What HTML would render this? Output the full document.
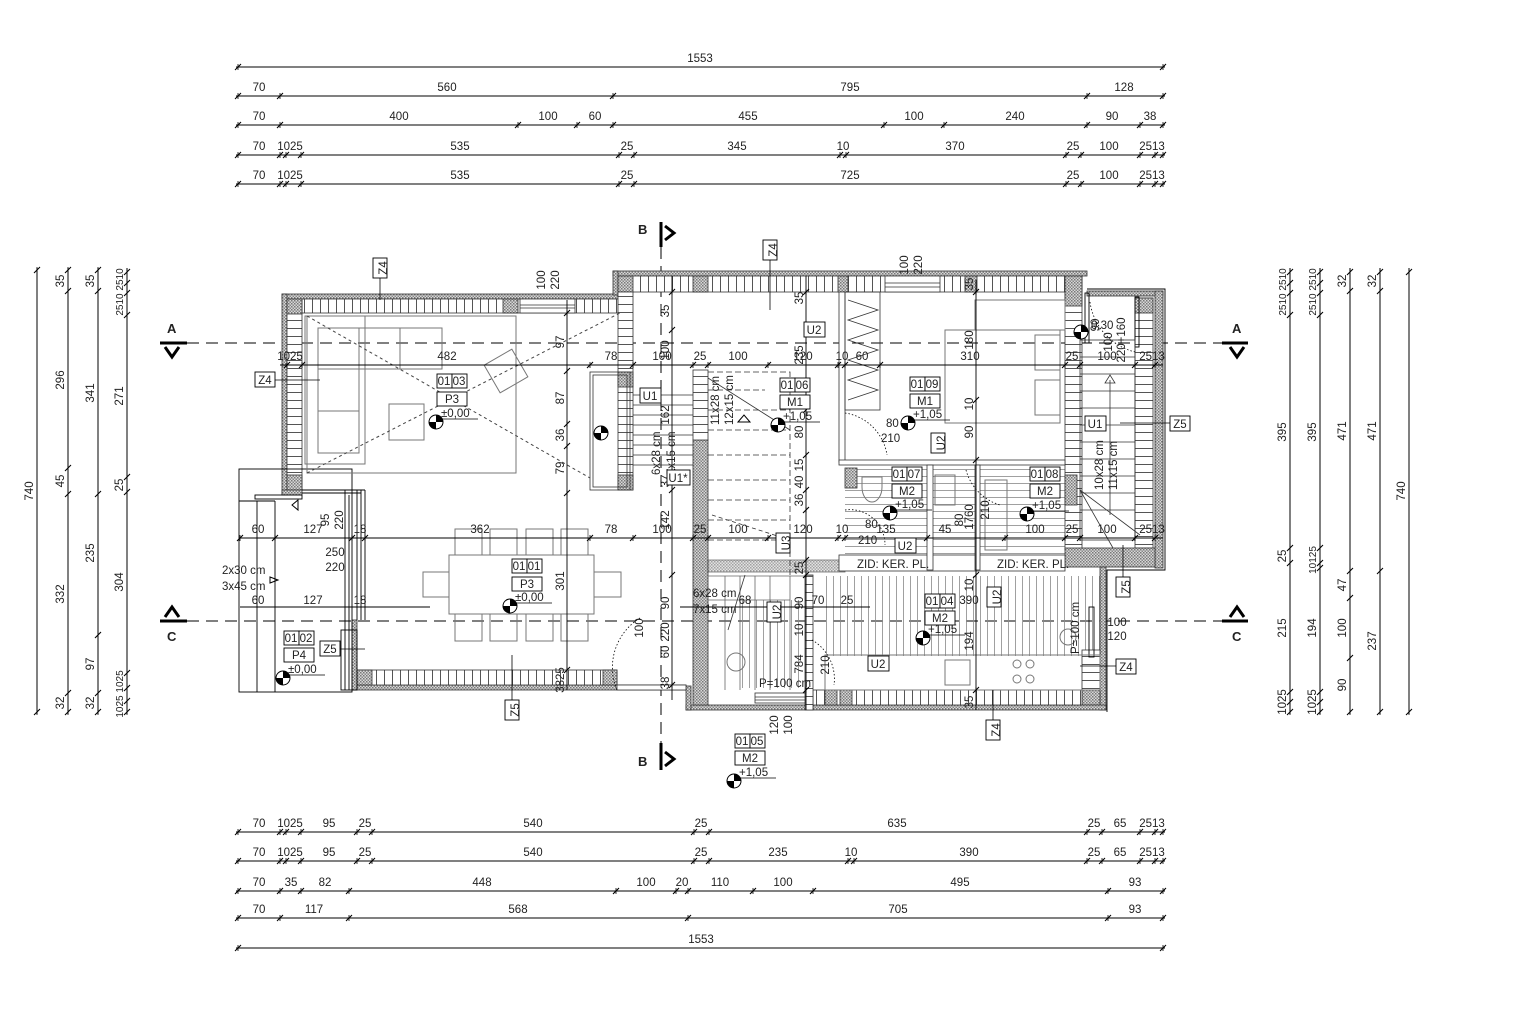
<!DOCTYPE html>
<html><head><meta charset="utf-8"><style>
html,body{margin:0;padding:0;background:#fff}
svg{display:block}
text{font-family:"Liberation Sans Narrow","Liberation Sans",sans-serif;font-size:11.5px;fill:#222}
.b{font-family:"Liberation Sans",sans-serif;font-weight:bold;font-size:13px}
</style></head><body>
<svg width="1513" height="1025" viewBox="0 0 1513 1025" xmlns="http://www.w3.org/2000/svg">
<defs>
<pattern id="h" width="3" height="3" patternUnits="userSpaceOnUse"><rect width="3" height="3" fill="#d8d8d8"/><rect width="1.5" height="1.5" fill="#777"/><rect x="1.5" y="1.5" width="1.5" height="1.5" fill="#888"/></pattern>
<pattern id="vl" width="8" height="8" patternUnits="userSpaceOnUse"><rect width="8" height="8" fill="#fff"/><line x1="0.5" y1="0" x2="0.5" y2="8" stroke="#555" stroke-width="1"/></pattern>
<pattern id="hl" width="8" height="8" patternUnits="userSpaceOnUse"><rect width="8" height="8" fill="#fff"/><line x1="0" y1="0.5" x2="8" y2="0.5" stroke="#555" stroke-width="1"/></pattern>
<pattern id="tv" width="7" height="7" patternUnits="userSpaceOnUse"><line x1="0.5" y1="0" x2="0.5" y2="7" stroke="#888" stroke-width="0.8"/></pattern>
<pattern id="th" width="7" height="7" patternUnits="userSpaceOnUse"><line x1="0" y1="0.5" x2="7" y2="0.5" stroke="#888" stroke-width="0.8"/></pattern>
<g id="t"><line x1="-3" y1="3" x2="3" y2="-3" stroke="#000" stroke-width="1.1"/><line x1="0" y1="-3" x2="0" y2="3" stroke="#000" stroke-width="0.8"/></g>
<g id="e"><circle r="7" fill="#fff" stroke="#000"/><path d="M0 0L0 -7A7 7 0 0 1 7 0Z M0 0L0 7A7 7 0 0 1 -7 0Z" fill="#000"/></g>
</defs>

<g stroke="#000" stroke-width="1">
<line x1="236" y1="67" x2="1165" y2="67"/>
<line x1="236" y1="96" x2="1165" y2="96"/>
<line x1="236" y1="125" x2="1165" y2="125"/>
<line x1="236" y1="155" x2="1165" y2="155"/>
<line x1="236" y1="184" x2="1165" y2="184"/>
<line x1="236" y1="832" x2="1165" y2="832"/>
<line x1="236" y1="861" x2="1165" y2="861"/>
<line x1="236" y1="891" x2="1165" y2="891"/>
<line x1="236" y1="918" x2="1165" y2="918"/>
<line x1="236" y1="948" x2="1165" y2="948"/>
</g>
<g>
<use href="#t" x="238" y="67"/><use href="#t" x="1163" y="67"/>
<use href="#t" x="238" y="96"/><use href="#t" x="280" y="96"/><use href="#t" x="613" y="96"/><use href="#t" x="1087" y="96"/><use href="#t" x="1163" y="96"/>
<use href="#t" x="238" y="125"/><use href="#t" x="280" y="125"/><use href="#t" x="518" y="125"/><use href="#t" x="577" y="125"/><use href="#t" x="613" y="125"/><use href="#t" x="884" y="125"/><use href="#t" x="944" y="125"/><use href="#t" x="1087" y="125"/><use href="#t" x="1140" y="125"/><use href="#t" x="1163" y="125"/>
<use href="#t" x="238" y="155"/><use href="#t" x="280" y="155"/><use href="#t" x="286" y="155"/><use href="#t" x="301" y="155"/><use href="#t" x="619" y="155"/><use href="#t" x="634" y="155"/><use href="#t" x="840" y="155"/><use href="#t" x="846" y="155"/><use href="#t" x="1066" y="155"/><use href="#t" x="1081" y="155"/><use href="#t" x="1140" y="155"/><use href="#t" x="1155" y="155"/><use href="#t" x="1163" y="155"/>
<use href="#t" x="238" y="184"/><use href="#t" x="280" y="184"/><use href="#t" x="286" y="184"/><use href="#t" x="301" y="184"/><use href="#t" x="619" y="184"/><use href="#t" x="634" y="184"/><use href="#t" x="1066" y="184"/><use href="#t" x="1081" y="184"/><use href="#t" x="1140" y="184"/><use href="#t" x="1155" y="184"/><use href="#t" x="1163" y="184"/>
<use href="#t" x="238" y="832"/><use href="#t" x="280" y="832"/><use href="#t" x="286" y="832"/><use href="#t" x="301" y="832"/><use href="#t" x="357" y="832"/><use href="#t" x="372" y="832"/><use href="#t" x="694" y="832"/><use href="#t" x="709" y="832"/><use href="#t" x="1087" y="832"/><use href="#t" x="1102" y="832"/><use href="#t" x="1140" y="832"/><use href="#t" x="1155" y="832"/><use href="#t" x="1163" y="832"/>
<use href="#t" x="238" y="861"/><use href="#t" x="280" y="861"/><use href="#t" x="286" y="861"/><use href="#t" x="301" y="861"/><use href="#t" x="357" y="861"/><use href="#t" x="372" y="861"/><use href="#t" x="694" y="861"/><use href="#t" x="709" y="861"/><use href="#t" x="848" y="861"/><use href="#t" x="854" y="861"/><use href="#t" x="1087" y="861"/><use href="#t" x="1102" y="861"/><use href="#t" x="1140" y="861"/><use href="#t" x="1155" y="861"/><use href="#t" x="1163" y="861"/>
<use href="#t" x="238" y="891"/><use href="#t" x="280" y="891"/><use href="#t" x="301" y="891"/><use href="#t" x="349" y="891"/><use href="#t" x="616" y="891"/><use href="#t" x="676" y="891"/><use href="#t" x="688" y="891"/><use href="#t" x="753" y="891"/><use href="#t" x="813" y="891"/><use href="#t" x="1108" y="891"/><use href="#t" x="1163" y="891"/>
<use href="#t" x="238" y="918"/><use href="#t" x="280" y="918"/><use href="#t" x="349" y="918"/><use href="#t" x="688" y="918"/><use href="#t" x="1108" y="918"/><use href="#t" x="1163" y="918"/>
<use href="#t" x="238" y="948"/><use href="#t" x="1163" y="948"/>
</g>
<g text-anchor="middle">
<text x="700" y="62">1553</text>
<text x="259" y="91">70</text><text x="447" y="91">560</text><text x="850" y="91">795</text><text x="1124" y="91">128</text>
<text x="259" y="120">70</text><text x="399" y="120">400</text><text x="548" y="120">100</text><text x="595" y="120">60</text><text x="748" y="120">455</text><text x="914" y="120">100</text><text x="1015" y="120">240</text><text x="1112" y="120">90</text><text x="1150" y="120">38</text>
<text x="259" y="150">70</text><text x="290" y="150">1025</text><text x="460" y="150">535</text><text x="627" y="150">25</text><text x="737" y="150">345</text><text x="843" y="150">10</text><text x="955" y="150">370</text><text x="1073" y="150">25</text><text x="1109" y="150">100</text><text x="1152" y="150">2513</text>
<text x="259" y="179">70</text><text x="290" y="179">1025</text><text x="460" y="179">535</text><text x="627" y="179">25</text><text x="850" y="179">725</text><text x="1073" y="179">25</text><text x="1109" y="179">100</text><text x="1152" y="179">2513</text>
<text x="259" y="827">70</text><text x="290" y="827">1025</text><text x="329" y="827">95</text><text x="365" y="827">25</text><text x="533" y="827">540</text><text x="701" y="827">25</text><text x="897" y="827">635</text><text x="1094" y="827">25</text><text x="1120" y="827">65</text><text x="1152" y="827">2513</text>
<text x="259" y="856">70</text><text x="290" y="856">1025</text><text x="329" y="856">95</text><text x="365" y="856">25</text><text x="533" y="856">540</text><text x="701" y="856">25</text><text x="778" y="856">235</text><text x="851" y="856">10</text><text x="969" y="856">390</text><text x="1094" y="856">25</text><text x="1120" y="856">65</text><text x="1152" y="856">2513</text>
<text x="259" y="886">70</text><text x="291" y="886">35</text><text x="325" y="886">82</text><text x="482" y="886">448</text><text x="646" y="886">100</text><text x="682" y="886">20</text><text x="720" y="886">110</text><text x="783" y="886">100</text><text x="960" y="886">495</text><text x="1135" y="886">93</text>
<text x="259" y="913">70</text><text x="314" y="913">117</text><text x="518" y="913">568</text><text x="898" y="913">705</text><text x="1135" y="913">93</text>
<text x="701" y="943">1553</text>
</g>

<g stroke="#000">
<line x1="37" y1="268" x2="37" y2="714"/><line x1="68" y1="268" x2="68" y2="714"/><line x1="98" y1="268" x2="98" y2="714"/><line x1="127" y1="268" x2="127" y2="714"/>
<line x1="1290" y1="268" x2="1290" y2="714"/><line x1="1320" y1="268" x2="1320" y2="714"/><line x1="1350" y1="268" x2="1350" y2="714"/><line x1="1380" y1="268" x2="1380" y2="714"/><line x1="1409" y1="268" x2="1409" y2="714"/>
</g>
<g>
<use href="#t" x="37" y="270"/><use href="#t" x="37" y="712"/>
<use href="#t" x="68" y="270"/><use href="#t" x="68" y="291"/><use href="#t" x="68" y="468"/><use href="#t" x="68" y="494"/><use href="#t" x="68" y="693"/><use href="#t" x="68" y="712"/>
<use href="#t" x="98" y="270"/><use href="#t" x="98" y="291"/><use href="#t" x="98" y="494"/><use href="#t" x="98" y="635"/><use href="#t" x="98" y="693"/><use href="#t" x="98" y="712"/>
<use href="#t" x="127" y="272"/><use href="#t" x="127" y="283"/><use href="#t" x="127" y="293"/><use href="#t" x="127" y="315"/><use href="#t" x="127" y="477"/><use href="#t" x="127" y="492"/><use href="#t" x="127" y="673"/><use href="#t" x="127" y="688"/><use href="#t" x="127" y="701"/><use href="#t" x="127" y="712"/>
<use href="#t" x="1290" y="272"/><use href="#t" x="1290" y="283"/><use href="#t" x="1290" y="293"/><use href="#t" x="1290" y="315"/><use href="#t" x="1290" y="548"/><use href="#t" x="1290" y="563"/><use href="#t" x="1290" y="692"/><use href="#t" x="1290" y="702"/><use href="#t" x="1290" y="712"/>
<use href="#t" x="1320" y="272"/><use href="#t" x="1320" y="283"/><use href="#t" x="1320" y="293"/><use href="#t" x="1320" y="315"/><use href="#t" x="1320" y="548"/><use href="#t" x="1320" y="563"/><use href="#t" x="1320" y="568"/><use href="#t" x="1320" y="692"/><use href="#t" x="1320" y="702"/><use href="#t" x="1320" y="712"/>
<use href="#t" x="1350" y="272"/><use href="#t" x="1350" y="291"/><use href="#t" x="1350" y="571"/><use href="#t" x="1350" y="598"/><use href="#t" x="1350" y="658"/><use href="#t" x="1350" y="712"/>
<use href="#t" x="1380" y="272"/><use href="#t" x="1380" y="291"/><use href="#t" x="1380" y="571"/><use href="#t" x="1380" y="712"/>
<use href="#t" x="1409" y="272"/><use href="#t" x="1409" y="712"/>
</g>
<g text-anchor="middle">
<text transform="translate(33,491) rotate(-90)">740</text>
<text transform="translate(64,281) rotate(-90)">35</text><text transform="translate(64,380) rotate(-90)">296</text><text transform="translate(64,481) rotate(-90)">45</text><text transform="translate(64,594) rotate(-90)">332</text><text transform="translate(64,703) rotate(-90)">32</text>
<text transform="translate(94,281) rotate(-90)">35</text><text transform="translate(94,393) rotate(-90)">341</text><text transform="translate(94,553) rotate(-90)">235</text><text transform="translate(94,664) rotate(-90)">97</text><text transform="translate(94,703) rotate(-90)">32</text>
<text transform="translate(123,292) rotate(-90)" style="font-size:10px">2510 2510</text><text transform="translate(123,396) rotate(-90)">271</text><text transform="translate(123,485) rotate(-90)">25</text><text transform="translate(123,582) rotate(-90)">304</text><text transform="translate(123,694) rotate(-90)" style="font-size:10px">1025 1025</text>
<text transform="translate(1286,292) rotate(-90)" style="font-size:10px">2510 2510</text><text transform="translate(1286,432) rotate(-90)">395</text><text transform="translate(1286,556) rotate(-90)">25</text><text transform="translate(1286,628) rotate(-90)">215</text><text transform="translate(1286,702) rotate(-90)">1025</text>
<text transform="translate(1316,292) rotate(-90)" style="font-size:10px">2510 2510</text><text transform="translate(1316,432) rotate(-90)">395</text><text transform="translate(1316,560) rotate(-90)" style="font-size:10px">10125</text><text transform="translate(1316,628) rotate(-90)">194</text><text transform="translate(1316,702) rotate(-90)">1025</text>
<text transform="translate(1346,281) rotate(-90)">32</text><text transform="translate(1346,431) rotate(-90)">471</text><text transform="translate(1346,585) rotate(-90)">47</text><text transform="translate(1346,628) rotate(-90)">100</text><text transform="translate(1346,685) rotate(-90)">90</text>
<text transform="translate(1376,281) rotate(-90)">32</text><text transform="translate(1376,431) rotate(-90)">471</text><text transform="translate(1376,641) rotate(-90)">237</text>
<text transform="translate(1405,491) rotate(-90)">740</text>
</g>

<g stroke="#000" stroke-width="1" stroke-dasharray="12,7" fill="none">
<line x1="187" y1="343" x2="1222" y2="343"/>
<line x1="187" y1="621" x2="1222" y2="621"/>
<line x1="661" y1="247" x2="661" y2="743"/>
</g>
<g fill="#000" stroke="#000" stroke-width="3" stroke-linejoin="miter">
<line x1="160" y1="343" x2="187" y2="343"/><polyline points="165,347 172,357 179,347" fill="none"/>
<line x1="1222" y1="343" x2="1248" y2="343"/><polyline points="1230,347 1237,357 1244,347" fill="none"/>
<line x1="160" y1="621" x2="187" y2="621"/><polyline points="165,617 172,607 179,617" fill="none"/>
<line x1="1222" y1="621" x2="1248" y2="621"/><polyline points="1230,617 1237,607 1244,617" fill="none"/>
<line x1="661" y1="222" x2="661" y2="247"/><polyline points="665,226 674,233 665,240" fill="none"/>
<line x1="661" y1="743" x2="661" y2="770"/><polyline points="665,752 674,759 665,766" fill="none"/>
</g>
<text class="b" x="167" y="333">A</text><text class="b" x="1232" y="333">A</text>
<text class="b" x="167" y="641">C</text><text class="b" x="1232" y="641">C</text>
<text class="b" x="638" y="234">B</text><text class="b" x="638" y="766">B</text>

<rect x="845" y="465" width="220" height="95" fill="url(#th)"/>
<rect x="825" y="576" width="280" height="80" fill="url(#tv)"/>
<rect x="740" y="600" width="73" height="88" fill="url(#tv)"/>

<g stroke="#333" stroke-width="0.8">
<rect x="282" y="294" width="336" height="5" fill="url(#h)"/>
<rect x="287" y="299" width="331" height="14" fill="url(#vl)"/>
<rect x="282" y="294" width="5" height="201" fill="url(#h)"/>
<rect x="287" y="299" width="15" height="191" fill="url(#hl)"/>
<rect x="287" y="299" width="15" height="15" fill="url(#h)"/>
<rect x="287" y="475" width="15" height="15" fill="url(#h)"/>
<rect x="503" y="299" width="15" height="14" fill="url(#h)"/>
<rect x="282" y="490" width="20" height="5" fill="url(#h)"/>
<rect x="520" y="299" width="55" height="14" fill="#fff"/><line x1="520" y1="305" x2="575" y2="305"/><line x1="520" y1="308" x2="575" y2="308"/>
<rect x="613" y="271" width="474" height="5" fill="url(#h)"/>
<rect x="613" y="271" width="5" height="24" fill="url(#h)"/>
<rect x="618" y="276" width="464" height="16" fill="url(#vl)"/>
<rect x="885" y="276" width="55" height="16" fill="#fff"/><line x1="885" y1="283" x2="940" y2="283"/><line x1="885" y1="287" x2="940" y2="287"/>
<rect x="618" y="276" width="15" height="16" fill="url(#h)"/>
<rect x="693" y="276" width="15" height="16" fill="url(#h)"/>
<rect x="838" y="276" width="10" height="16" fill="url(#h)"/>
<rect x="965" y="276" width="12" height="16" fill="url(#h)"/>
<rect x="618" y="292" width="15" height="198" fill="url(#hl)"/>
<rect x="618" y="372" width="15" height="15" fill="url(#h)"/>
<rect x="618" y="475" width="15" height="15" fill="url(#h)"/>
<rect x="1065" y="276" width="17" height="274" fill="url(#hl)"/>
<rect x="1065" y="276" width="17" height="30" fill="url(#h)"/>
<rect x="1065" y="475" width="12" height="30" fill="url(#h)"/>
<rect x="1087" y="291" width="76" height="5" fill="url(#h)"/>
<rect x="1155" y="291" width="8" height="277" fill="url(#h)"/>
<rect x="1135" y="298" width="18" height="250" fill="url(#hl)"/>
<rect x="1135" y="298" width="18" height="15" fill="url(#h)"/>
<rect x="1065" y="548" width="90" height="19" fill="url(#h)"/>
<rect x="1100" y="567" width="6" height="143" fill="url(#h)"/>
<rect x="1082" y="650" width="18" height="55" fill="url(#hl)"/>
<rect x="1082" y="690" width="18" height="15" fill="url(#h)"/>
<rect x="813" y="705" width="293" height="5" fill="url(#h)"/>
<rect x="813" y="690" width="269" height="15" fill="url(#vl)"/>
<rect x="840" y="690" width="12" height="15" fill="url(#h)"/>
<rect x="686" y="705" width="127" height="5" fill="url(#h)"/>
<rect x="686" y="686" width="5" height="24" fill="url(#h)"/>
<rect x="693" y="440" width="15" height="265" fill="url(#h)"/>
<rect x="693" y="370" width="15" height="70" fill="url(#hl)"/>
<rect x="805" y="575" width="8" height="135" fill="url(#hl)"/>
<rect x="825" y="690" width="12" height="15" fill="url(#h)"/>
<rect x="755" y="693" width="50" height="10" fill="#fff"/><line x1="755" y1="697" x2="805" y2="697"/><line x1="755" y1="700" x2="805" y2="700"/>
<rect x="708" y="560" width="137" height="12" fill="url(#h)" opacity="0.7"/>
<rect x="839" y="292" width="6" height="170" fill="#fff"/>
<rect x="839" y="460" width="226" height="5" fill="#fff"/>
<rect x="845" y="468" width="12" height="20" fill="url(#h)"/>
<rect x="839" y="555" width="226" height="16" fill="#fff"/>
<rect x="927" y="465" width="6" height="105" fill="#fff"/>
<rect x="975" y="465" width="5" height="105" fill="#fff"/>
<rect x="352" y="685" width="334" height="5" fill="url(#h)"/>
<rect x="357" y="670" width="260" height="15" fill="url(#vl)"/>
<rect x="357" y="670" width="15" height="15" fill="url(#h)"/>
<rect x="603" y="670" width="14" height="15" fill="url(#h)"/>
<rect x="352" y="620" width="5" height="70" fill="url(#h)"/>
<rect x="617" y="685" width="69" height="5" fill="#fff"/>
</g>
<g stroke="#000" fill="none" stroke-width="0.9">
<rect x="239" y="469" width="113" height="223"/>
<line x1="257" y1="501" x2="257" y2="692"/><line x1="275" y1="501" x2="275" y2="692"/>
<line x1="239" y1="501" x2="275" y2="501"/>
<rect x="255" y="495" width="47" height="4"/>
<line x1="345" y1="490" x2="345" y2="690"/><line x1="349" y1="495" x2="349" y2="690"/>
<line x1="357" y1="490" x2="357" y2="620"/><line x1="361" y1="490" x2="361" y2="620"/><line x1="365" y1="490" x2="365" y2="620"/>
<line x1="302" y1="490" x2="365" y2="490"/><line x1="302" y1="493" x2="361" y2="493"/>
<rect x="341" y="630" width="16" height="60"/>
<polyline points="1087,289 1165,289 1165,570 1107,570 1107,712"/>
<rect x="1135" y="297" width="4" height="50"/><rect x="1085" y="293" width="4" height="50"/>
<rect x="1089" y="607" width="5" height="50"/>
</g>

<g stroke="#333" stroke-width="0.8" fill="none">
<rect x="590" y="372" width="40" height="118"/>
<rect x="593" y="375" width="34" height="112"/>
<path d="M633 395H693M633 405H693M633 415H693M633 425H693M633 435H693M633 445H693M633 455H693M633 465H693"/>
<path d="M708 372H790V575M708 390H765M708 410H790M708 430H790M708 455H790M708 480H790M708 500H790M708 520H790M708 540H790" stroke-dasharray="6,3"/>
<line x1="708" y1="378" x2="790" y2="430"/>
<line x1="712" y1="515" x2="790" y2="540" stroke-dasharray="4,3"/>
<path d="M708 576H813M708 600H790M725 576V690M740 576V690M755 576V690M770 576V690M790 576V690" stroke="#666"/>
<line x1="728" y1="630" x2="745" y2="575"/>
<rect x="1080" y="340" width="55" height="200"/>
<path d="M1080 357H1135M1080 374H1135M1080 391H1135M1080 408H1135M1080 425H1135M1080 442H1135M1080 459H1135M1080 476H1135M1080 493H1135M1080 510H1135"/>
<line x1="1110" y1="380" x2="1110" y2="515"/>
<polygon points="1105,383 1110,375 1115,383"/>
<line x1="1080" y1="490" x2="1113" y2="548"/><line x1="1080" y1="490" x2="1140" y2="535"/>
<rect x="845" y="292" width="35" height="118"/>
<path d="M848 300L878 310L848 320L878 330L848 340L878 350L848 360L878 370L848 380L878 390L848 400"/>
</g>

<g stroke="#777" stroke-width="1" fill="none">
<rect x="307" y="316" width="209" height="157"/>
<rect x="318" y="328" width="124" height="41"/>
<line x1="359" y1="328" x2="359" y2="369"/><line x1="400" y1="328" x2="400" y2="369"/>
<rect x="318" y="369" width="41" height="84"/><line x1="318" y1="411" x2="359" y2="411"/>
<rect x="305" y="316" width="60" height="148"/>
<rect x="389" y="404" width="35" height="36"/>
<rect x="490" y="355" width="32" height="32" transform="rotate(-30 506 371)"/>
<path d="M307 473L620 313M307 316L590 478" stroke-dasharray="3,3" stroke="#444"/>
<rect x="449" y="555" width="145" height="59"/>
<rect x="455" y="529" width="27" height="26"/><rect x="490" y="529" width="27" height="26"/><rect x="526" y="529" width="27" height="26"/><rect x="561" y="529" width="27" height="26"/>
<rect x="455" y="614" width="27" height="27"/><rect x="490" y="614" width="27" height="27"/><rect x="526" y="614" width="27" height="27"/><rect x="561" y="614" width="27" height="27"/>
<rect x="423" y="572" width="26" height="25"/><rect x="594" y="572" width="27" height="25"/>
<rect x="945" y="330" width="115" height="93"/>
<rect x="1035" y="335" width="25" height="35"/><rect x="1035" y="380" width="25" height="35"/>
<rect x="975" y="300" width="90" height="30"/>
<path d="M862 487a10 15 0 0 0 20 0v-10h-20z"/>
<rect x="935" y="475" width="20" height="30"/>
<rect x="985" y="480" width="22" height="70"/>
<rect x="825" y="655" width="275" height="35"/>
<rect x="945" y="660" width="25" height="25"/>
<circle cx="1017" cy="664" r="4"/><circle cx="1030" cy="664" r="4"/><circle cx="1017" cy="679" r="4"/><circle cx="1030" cy="679" r="4"/>
<circle cx="1068" cy="637" r="8"/><circle cx="736" cy="662" r="9"/>
</g>
<g stroke="#000" stroke-dasharray="1.5,2" fill="none" stroke-width="0.8">
<path d="M640 618A58 58 0 0 0 617 690"/>
<path d="M845 413A50 50 0 0 1 887 455"/>
<path d="M845 510A35 35 0 0 1 885 545"/>
<path d="M966 470A50 50 0 0 0 1000 505"/>
<path d="M812 640A45 45 0 0 1 834 685"/>
<path d="M1090 302A60 60 0 0 0 1135 352"/>
</g>

<g stroke="#000" stroke-width="0.9">
<line x1="280" y1="365" x2="1163" y2="365"/>
<line x1="240" y1="538" x2="1163" y2="538"/>
<line x1="240" y1="607" x2="430" y2="607"/>
<line x1="680" y1="607" x2="870" y2="607"/>
<line x1="567" y1="300" x2="567" y2="690"/>
<line x1="672" y1="276" x2="672" y2="700"/>
<line x1="806" y1="276" x2="806" y2="710"/>
<line x1="976" y1="280" x2="976" y2="710"/>
</g>
<g>
<use href="#t" x="287" y="365"/><use href="#t" x="302" y="365"/><use href="#t" x="590" y="365"/><use href="#t" x="633" y="365"/><use href="#t" x="693" y="365"/><use href="#t" x="708" y="365"/><use href="#t" x="768" y="365"/><use href="#t" x="838" y="365"/><use href="#t" x="845" y="365"/><use href="#t" x="880" y="365"/><use href="#t" x="1065" y="365"/><use href="#t" x="1080" y="365"/><use href="#t" x="1135" y="365"/><use href="#t" x="1155" y="365"/>
<use href="#t" x="240" y="538"/><use href="#t" x="275" y="538"/><use href="#t" x="352" y="538"/><use href="#t" x="365" y="538"/><use href="#t" x="590" y="538"/><use href="#t" x="633" y="538"/><use href="#t" x="693" y="538"/><use href="#t" x="708" y="538"/><use href="#t" x="768" y="538"/><use href="#t" x="838" y="538"/><use href="#t" x="845" y="538"/><use href="#t" x="927" y="538"/><use href="#t" x="1005" y="538"/><use href="#t" x="1065" y="538"/><use href="#t" x="1080" y="538"/><use href="#t" x="1135" y="538"/><use href="#t" x="1155" y="538"/>
<use href="#t" x="567" y="313"/><use href="#t" x="567" y="371"/><use href="#t" x="567" y="424"/><use href="#t" x="567" y="446"/><use href="#t" x="567" y="493"/><use href="#t" x="567" y="670"/>
<use href="#t" x="672" y="292"/><use href="#t" x="672" y="330"/><use href="#t" x="672" y="472"/><use href="#t" x="672" y="490"/><use href="#t" x="672" y="575"/><use href="#t" x="672" y="685"/>
<use href="#t" x="806" y="292"/><use href="#t" x="806" y="410"/><use href="#t" x="806" y="455"/><use href="#t" x="806" y="490"/><use href="#t" x="806" y="510"/><use href="#t" x="806" y="560"/><use href="#t" x="806" y="575"/><use href="#t" x="806" y="690"/>
<use href="#t" x="976" y="292"/><use href="#t" x="976" y="400"/><use href="#t" x="976" y="460"/><use href="#t" x="976" y="575"/><use href="#t" x="976" y="690"/>
</g>
<g text-anchor="middle">
<text x="290" y="360">1025</text><text x="447" y="360">482</text><text x="611" y="360">78</text><text x="662" y="360">100</text><text x="700" y="360">25</text><text x="738" y="360">100</text><text x="803" y="360">120</text><text x="842" y="360">10</text><text x="862" y="360">60</text><text x="970" y="360">310</text><text x="1072" y="360">25</text><text x="1107" y="360">100</text><text x="1152" y="360">2513</text>
<text x="258" y="533">60</text><text x="313" y="533">127</text><text x="360" y="533">18</text><text x="480" y="533">362</text><text x="611" y="533">78</text><text x="662" y="533">100</text><text x="700" y="533">25</text><text x="738" y="533">100</text><text x="803" y="533">120</text><text x="842" y="533">10</text><text x="886" y="533">135</text><text x="945" y="533">45</text><text x="1035" y="533">100</text><text x="1072" y="533">25</text><text x="1107" y="533">100</text><text x="1152" y="533">2513</text>
<text x="258" y="604">60</text><text x="313" y="604">127</text><text x="360" y="604">18</text><text x="745" y="604">68</text><text x="818" y="604">70</text><text x="847" y="604">25</text><text x="969" y="604">390</text>
<text x="335" y="556">250</text><text x="335" y="571">220</text>
<text x="1117" y="626">100</text><text x="1117" y="640">120</text>
</g>
<g text-anchor="middle">
<text transform="translate(564,342) rotate(-90)">97</text><text transform="translate(564,398) rotate(-90)">87</text><text transform="translate(564,435) rotate(-90)">36</text><text transform="translate(564,468) rotate(-90)">79</text><text transform="translate(564,581) rotate(-90)">301</text><text transform="translate(564,680) rotate(-90)">3825</text>
<text transform="translate(669,311) rotate(-90)">35</text><text transform="translate(669,350) rotate(-90)">100</text><text transform="translate(669,415) rotate(-90)">162</text><text transform="translate(669,481) rotate(-90)">37</text><text transform="translate(669,520) rotate(-90)">142</text><text transform="translate(669,603) rotate(-90)">90</text><text transform="translate(669,632) rotate(-90)">220</text><text transform="translate(669,652) rotate(-90)">60</text><text transform="translate(669,683) rotate(-90)">38</text>
<text transform="translate(803,298) rotate(-90)">35</text><text transform="translate(803,355) rotate(-90)">235</text><text transform="translate(803,432) rotate(-90)">80</text><text transform="translate(803,465) rotate(-90)">15</text><text transform="translate(803,482) rotate(-90)">40</text><text transform="translate(803,500) rotate(-90)">36</text><text transform="translate(803,568) rotate(-90)">25</text><text transform="translate(803,603) rotate(-90)">90</text><text transform="translate(803,630) rotate(-90)">10</text><text transform="translate(803,664) rotate(-90)">784</text>
<text transform="translate(973,284) rotate(-90)">35</text><text transform="translate(973,340) rotate(-90)">180</text><text transform="translate(973,404) rotate(-90)">10</text><text transform="translate(973,432) rotate(-90)">90</text><text transform="translate(973,517) rotate(-90)">1760</text><text transform="translate(973,585) rotate(-90)">10</text><text transform="translate(973,641) rotate(-90)">194</text><text transform="translate(973,702) rotate(-90)">35</text>
<text transform="translate(545,280) rotate(-90)">100</text><text transform="translate(559,280) rotate(-90)">220</text>
<text transform="translate(908,265) rotate(-90)">100</text><text transform="translate(922,265) rotate(-90)">220</text>
<text transform="translate(329,520) rotate(-90)">95</text><text transform="translate(343,520) rotate(-90)">220</text>
<text transform="translate(643,628) rotate(-90)">100</text>
<text transform="translate(778,725) rotate(-90)">120</text><text transform="translate(792,725) rotate(-90)">100</text>
<text transform="translate(1099,325) rotate(-90)">90</text><text transform="translate(1112,342) rotate(-90)">100</text><text transform="translate(1125,340) rotate(-90)">220+160</text>
<text transform="translate(829,665) rotate(-90)">210</text>
<text transform="translate(963,520) rotate(-90)">80</text><text transform="translate(989,510) rotate(-90)">210</text>
<text transform="translate(1079,628) rotate(-90)">P=100 cm</text>
</g>
<g>
<text transform="translate(719,425) rotate(-90)">11x28 cm</text><text transform="translate(733,425) rotate(-90)">12x15 cm</text>
<text transform="translate(660,475) rotate(-90)">6x28 cm</text><text transform="translate(675,475) rotate(-90)">7x15 cm</text>
<text transform="translate(1103,490) rotate(-90)">10x28 cm</text><text transform="translate(1117,490) rotate(-90)">11x15 cm</text>
<text x="222" y="574">2x30 cm</text><text x="222" y="590">3x45 cm</text>
<text x="693" y="597">6x28 cm</text><text x="693" y="613">7x15 cm</text>
<text x="759" y="687">P=100 cm</text>
<text x="857" y="568">ZID: KER. PL.</text><text x="997" y="568">ZID: KER. PL.</text>
<text x="886" y="427">80</text><text x="881" y="442">210</text>
<text x="865" y="528">80</text><text x="858" y="544">210</text>
<text x="1091" y="329">0,30</text>
</g>
<g stroke="#000" fill="none"><polygon points="270,577 278,580 270,583"/><polygon points="292,505 298,500 298,510"/><polygon points="738,422 744,415 750,422" /></g>

<g stroke="#000" fill="#fff" stroke-width="0.9">
<rect x="373" y="258" width="14" height="20"/><rect x="255" y="372" width="20" height="15"/><rect x="763" y="240" width="14" height="20"/>
<rect x="1170" y="416" width="20" height="15"/><rect x="1116" y="577" width="14" height="20"/><rect x="1116" y="659" width="20" height="15"/>
<rect x="986" y="720" width="14" height="20"/><rect x="505" y="700" width="14" height="20"/><rect x="320" y="641" width="20" height="15"/>
<rect x="640" y="388" width="21" height="15"/><rect x="667" y="470" width="23" height="15"/><rect x="1085" y="416" width="21" height="15"/>
<rect x="804" y="322" width="21" height="15"/><rect x="931" y="433" width="14" height="20"/><rect x="895" y="538" width="21" height="15"/>
<rect x="987" y="587" width="14" height="20"/><rect x="868" y="656" width="21" height="15"/><rect x="767" y="602" width="14" height="20"/><rect x="776" y="533" width="14" height="20"/>
</g>
<g text-anchor="middle">
<text transform="translate(384,268) rotate(-90)" dominant-baseline="middle">Z4</text>
<text x="265" y="384">Z4</text>
<text transform="translate(774,250) rotate(-90)" dominant-baseline="middle">Z4</text>
<text x="1180" y="428">Z5</text>
<text transform="translate(1127,587) rotate(-90)" dominant-baseline="middle">Z5</text>
<text x="1126" y="671">Z4</text>
<text transform="translate(997,730) rotate(-90)" dominant-baseline="middle">Z4</text>
<text transform="translate(516,710) rotate(-90)" dominant-baseline="middle">Z5</text>
<text x="330" y="653">Z5</text>
<text x="650" y="400">U1</text><text x="678" y="482">U1*</text><text x="1095" y="428">U1</text>
<text x="814" y="334">U2</text>
<text transform="translate(942,443) rotate(-90)" dominant-baseline="middle">U2</text>
<text x="905" y="550">U2</text>
<text transform="translate(998,597) rotate(-90)" dominant-baseline="middle">U2</text>
<text x="878" y="668">U2</text>
<text transform="translate(778,612) rotate(-90)" dominant-baseline="middle">U2</text>
<text transform="translate(787,543) rotate(-90)" dominant-baseline="middle">U3</text>
</g>
<g stroke="#000" stroke-width="0.8"><line x1="380" y1="278" x2="380" y2="300"/><line x1="275" y1="380" x2="320" y2="380"/><line x1="770" y1="260" x2="770" y2="310"/><line x1="1120" y1="423" x2="1170" y2="423"/><line x1="1123" y1="545" x2="1123" y2="577"/><line x1="1080" y1="666" x2="1116" y2="666"/><line x1="993" y1="690" x2="993" y2="720"/><line x1="512" y1="655" x2="512" y2="700"/><line x1="340" y1="649" x2="365" y2="649"/></g>

<g stroke="#000" fill="#fff" stroke-width="0.9">
<rect x="437" y="374" width="15" height="14"/><rect x="452" y="374" width="15" height="14"/><rect x="437" y="392" width="30" height="14"/>
<rect x="512" y="559" width="15" height="14"/><rect x="527" y="559" width="15" height="14"/><rect x="512" y="577" width="30" height="14"/>
<rect x="284" y="631" width="15" height="14"/><rect x="299" y="631" width="15" height="14"/><rect x="284" y="648" width="30" height="14"/>
<rect x="780" y="378" width="15" height="14"/><rect x="795" y="378" width="15" height="14"/><rect x="780" y="395" width="30" height="14"/>
<rect x="910" y="377" width="15" height="14"/><rect x="925" y="377" width="15" height="14"/><rect x="910" y="394" width="30" height="14"/>
<rect x="892" y="467" width="15" height="14"/><rect x="907" y="467" width="15" height="14"/><rect x="892" y="484" width="30" height="14"/>
<rect x="1030" y="467" width="15" height="14"/><rect x="1045" y="467" width="15" height="14"/><rect x="1030" y="484" width="30" height="14"/>
<rect x="925" y="594" width="15" height="14"/><rect x="940" y="594" width="15" height="14"/><rect x="925" y="611" width="30" height="14"/>
<rect x="735" y="734" width="15" height="14"/><rect x="750" y="734" width="15" height="14"/><rect x="735" y="751" width="30" height="14"/>
</g>
<g text-anchor="middle">
<text x="444" y="385">01</text><text x="459" y="385">03</text><text x="452" y="403">P3</text>
<text x="519" y="570">01</text><text x="534" y="570">01</text><text x="527" y="588">P3</text>
<text x="291" y="642">01</text><text x="306" y="642">02</text><text x="299" y="659">P4</text>
<text x="787" y="389">01</text><text x="802" y="389">06</text><text x="795" y="406">M1</text>
<text x="917" y="388">01</text><text x="932" y="388">09</text><text x="925" y="405">M1</text>
<text x="899" y="478">01</text><text x="914" y="478">07</text><text x="907" y="495">M2</text>
<text x="1037" y="478">01</text><text x="1052" y="478">08</text><text x="1045" y="495">M2</text>
<text x="932" y="605">01</text><text x="947" y="605">04</text><text x="940" y="622">M2</text>
<text x="742" y="745">01</text><text x="757" y="745">05</text><text x="750" y="762">M2</text>
</g>
<g stroke="#000" stroke-width="0.8">
<line x1="436" y1="419" x2="478" y2="419"/><line x1="510" y1="603" x2="552" y2="603"/><line x1="283" y1="675" x2="325" y2="675"/>
<line x1="778" y1="422" x2="820" y2="422"/><line x1="908" y1="420" x2="950" y2="420"/><line x1="890" y1="510" x2="932" y2="510"/>
<line x1="1027" y1="511" x2="1069" y2="511"/><line x1="923" y1="635" x2="965" y2="635"/><line x1="734" y1="778" x2="776" y2="778"/>
</g>
<g>
<use href="#e" x="436" y="422"/><use href="#e" x="510" y="606"/><use href="#e" x="283" y="678"/>
<use href="#e" x="778" y="425"/><use href="#e" x="908" y="423"/><use href="#e" x="890" y="513"/>
<use href="#e" x="1027" y="514"/><use href="#e" x="923" y="638"/><use href="#e" x="734" y="781"/>
<use href="#e" x="1081" y="332"/><use href="#e" x="601" y="433"/>
</g>
<g>
<text x="441" y="417">±0,00</text><text x="515" y="601">±0,00</text><text x="288" y="673">±0,00</text>
<text x="783" y="420">+1,05</text><text x="913" y="418">+1,05</text><text x="895" y="508">+1,05</text>
<text x="1032" y="509">+1,05</text><text x="928" y="633">+1,05</text><text x="739" y="776">+1,05</text>
</g>
</svg>
</body></html>
